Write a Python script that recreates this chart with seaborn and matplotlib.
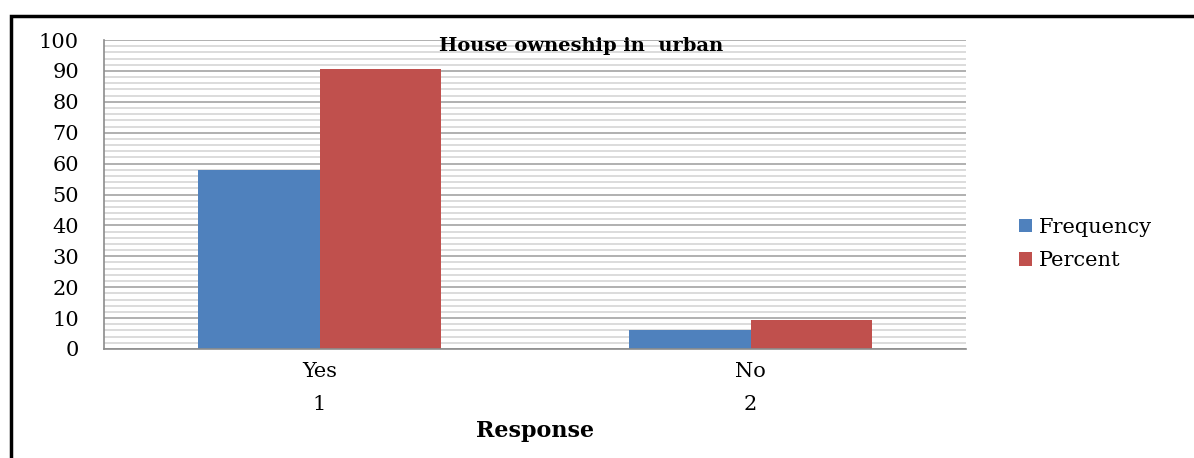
import matplotlib
matplotlib.use("Agg")
import matplotlib.pyplot as plt
import seaborn as sns
import pandas as pd
from matplotlib.patches import Rectangle
from matplotlib.ticker import MultipleLocator

# Survey summary: house ownership among urban respondents
responses = ["Yes", "No"]
response_codes = ["1", "2"]
series_names = ["Frequency", "Percent"]
frequency = [58, 6]
percent = [90.6, 9.4]
y_ticks = list(range(0, 101, 10))

sns.set_theme(style="white")
plt.rcParams["font.family"] = ["DejaVu Serif"]
plt.rcParams["text.color"] = "black"
plt.rcParams["ytick.labelcolor"] = "black"

df = pd.DataFrame({
    "Response": responses * 2,
    "Series": [series_names[0]] * len(responses) + [series_names[1]] * len(responses),
    "Value": frequency + percent,
})

W, H = 1194, 458
fig = plt.figure(figsize=(W / 100, H / 100), dpi=100)
ax = fig.add_axes([104 / W, 109 / H, 862 / W, 309 / H])

sns.barplot(
    data=df, x="Response", y="Value", hue="Series",
    order=responses, hue_order=series_names,
    palette=["#4F81BD", "#C0504D"], saturation=1,
    width=0.566, gap=0, edgecolor="none", linewidth=0, ax=ax,
)

ax.set_xlim(-0.5, len(responses) - 0.5)
ax.set_ylim(0, 100)
ax.set_xlabel("")
ax.set_ylabel("")

# horizontal gridlines: darker every 10, lighter every 2
ax.set_yticks(y_ticks)
ax.yaxis.set_minor_locator(MultipleLocator(2))
ax.grid(True, which="major", axis="y", color="#a3a3a3", lw=1.2)
ax.grid(True, which="minor", axis="y", color="#d6d6d6", lw=1.2)
ax.set_axisbelow(True)

axis_gray = "#8c8c8c"
for side in ("top", "right"):
    ax.spines[side].set_visible(False)
for side in ("left", "bottom"):
    ax.spines[side].set_color(axis_gray)
    ax.spines[side].set_linewidth(1.2)

ax.tick_params(axis="y", which="major", length=5, width=1.2, color=axis_gray,
               pad=13, labelsize=15, labelcolor="black")
ax.tick_params(axis="y", which="minor", length=0)

# category dividers drawn as long outward ticks
ax.set_xticks([i - 0.5 for i in range(len(responses) + 1)],
              labels=[""] * (len(responses) + 1))
ax.tick_params(axis="x", which="major", length=48, width=1.2, color=axis_gray,
               direction="out")

xt = ax.get_xaxis_transform()
for i, (r, c) in enumerate(zip(responses, response_codes)):
    ax.text(i, -0.074, r, transform=xt, ha="center", va="center", fontsize=15)
    ax.text(i, -0.181, c, transform=xt, ha="center", va="center", fontsize=15)

ax.text(0.553, 0.981, "House owneship in  urban", transform=ax.transAxes,
        ha="center", va="center", fontsize=14, fontweight="bold")

fig.text(535 / W, 1 - 431 / H, "Response", ha="center", va="center",
         fontsize=16, fontweight="bold")

handles, labels = ax.get_legend_handles_labels()
ax.legend_.remove()
fig.legend(handles, labels, loc="center left",
           bbox_to_anchor=(1009 / W, 1 - 244 / H), frameon=False,
           fontsize=15, handlelength=0.6, handleheight=0.6,
           handletextpad=0.35, labelspacing=0.7, borderpad=0)

# outer frame around the figure
fig.patches.append(Rectangle((11 / W, -0.1), 1.2, 1 - 16 / H + 0.1,
                             transform=fig.transFigure, fill=False,
                             lw=2.5, ec="black"))

fig.savefig("out.png", dpi=100)
